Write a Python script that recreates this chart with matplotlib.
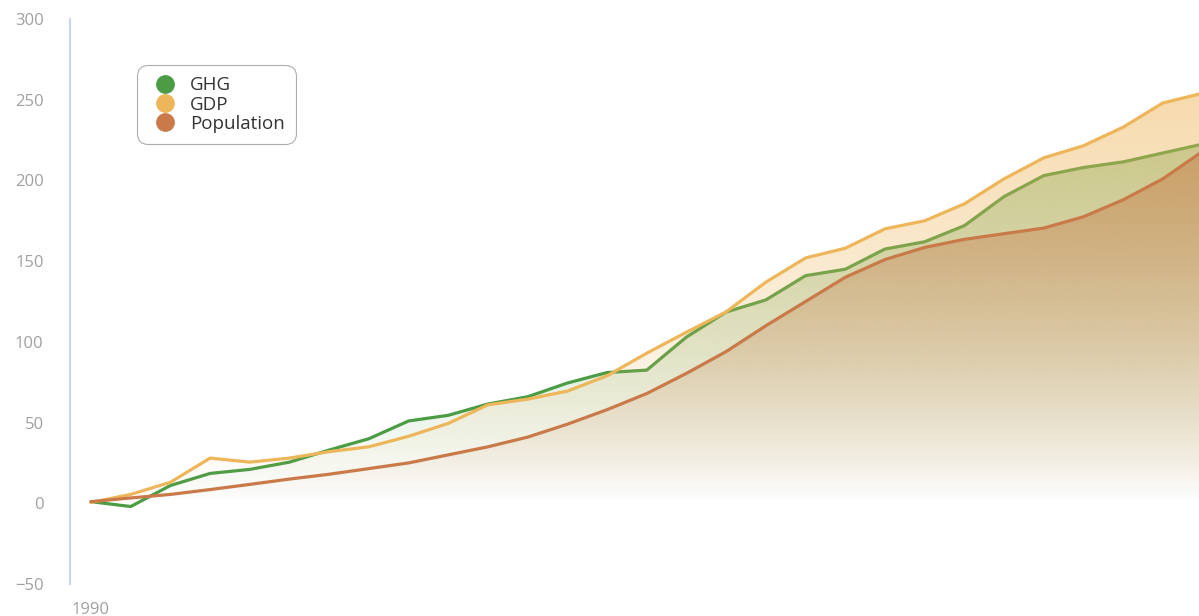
import numpy as np
import matplotlib
matplotlib.use("Agg")
import matplotlib.pyplot as plt
from matplotlib.patches import PathPatch
from matplotlib.lines import Line2D
from matplotlib.colors import to_rgb

plt.rcParams['font.family'] = ['Open Sans', 'DejaVu Sans']

years = list(range(1990, 2019))
ghg = [1, -2, 11, 18.5, 21, 25.5, 33, 40, 51, 54.5, 61.5, 66, 74.5, 81, 82.5,
       103, 118.5, 126, 141, 145, 157.5, 162, 172, 190, 203, 208, 211.5, 217, 222.5]
gdp = [0.5, 5.5, 13, 28, 25.5, 28, 32, 35, 41.5, 49.5, 61, 64.5, 69.5, 79, 93,
       106, 118.6, 137, 152, 158, 170, 175, 185.5, 201, 214, 221.5, 233, 248, 254]
population = [1, 3.3, 5.5, 8.5, 11.7, 15, 18, 21.5, 25, 30, 35, 41, 49, 58, 68,
              80.5, 94, 110, 125, 140, 151, 158.5, 163.5, 167, 170.5, 177.5, 188, 201, 218]

series = [
    ("GHG", ghg, "#4c9c45", 0.42),
    ("GDP", gdp, "#eeb65a", 0.50),
    ("Population", population, "#c97a48", 0.52),
]

fig = plt.figure(figsize=(11.99, 6.16), dpi=100)
ax = fig.add_axes([70 / 1199, 1 - 584 / 616, 1 - 70 / 1199, (584 - 19) / 616])

x0 = 1990 - 21 / 39.7
x1 = 1990 + (1199 - 91) / 39.7

z = 1
for name, vals, color, amax in series:
    ymax = max(vals)
    # gradient image clipped to the area under the line
    t = np.linspace(0, 1, 256).reshape(-1, 1)
    img = np.zeros((256, 1, 4))
    img[..., :3] = to_rgb(color)
    img[..., 3] = amax * t
    poly = ax.fill_between(years, vals, 0, facecolor="none", edgecolor="none")
    patch = PathPatch(poly.get_paths()[0], transform=ax.transData,
                      facecolor="none", edgecolor="none")
    ax.add_patch(patch)
    im = ax.imshow(img, extent=[years[0], years[-1], 0, ymax], origin="lower",
                   aspect="auto", zorder=z, interpolation="bilinear")
    im.set_clip_path(patch)
    ax.plot(years, vals, color=color, lw=2.3, zorder=z + 1,
            solid_joinstyle="round", solid_capstyle="round")
    z += 2

ax.set_xlim(x0, x1)
ax.set_ylim(-50, 300)
ax.set_yticks(range(-50, 301, 50))
ax.set_xticks([1990])
ax.set_xticklabels(["1990"])
ax.tick_params(axis="both", length=0, labelsize=12, labelcolor="#a0a0a0")
ax.tick_params(axis="y", pad=19)
ax.tick_params(axis="x", pad=13)

for s in ["top", "right", "bottom"]:
    ax.spines[s].set_visible(False)
ax.spines["left"].set_color("#c9d6ee")
ax.spines["left"].set_linewidth(1.5)

handles = [Line2D([], [], ls="none", marker="o", markersize=12.5,
                  markerfacecolor=c, markeredgecolor=c) for _, _, c, _ in series]
leg = fig.legend(handles, [n for n, _, _, _ in series], loc="upper left",
                 bbox_to_anchor=(137 / 1199, 1 - 65 / 616), borderaxespad=0,
                 fontsize=13.5, labelcolor="#333333", frameon=True, fancybox=True,
                 edgecolor="#999999", handlelength=1.8, handletextpad=0.42,
                 labelspacing=0.07, borderpad=0.6)
leg.get_frame().set_linewidth(0.8)
leg.get_frame().set_boxstyle("round,pad=0,rounding_size=0.6")

fig.savefig("out.png", dpi=100)
